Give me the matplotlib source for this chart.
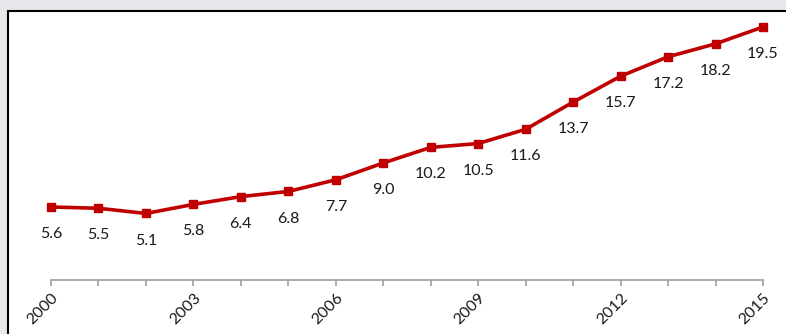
import matplotlib.pyplot as plt
from matplotlib.patches import Rectangle

years = list(range(2000, 2016))
values = [5.6, 5.5, 5.1, 5.8, 6.4, 6.8, 7.7, 9.0, 10.2, 10.5, 11.6, 13.7, 15.7, 17.2, 18.2, 19.5]
label_years = [2000, 2003, 2006, 2009, 2012, 2015]

plt.rcParams['font.family'] = ['Lato', 'DejaVu Sans']

W, H = 786, 334
fig = plt.figure(figsize=(W / 100, H / 100), dpi=100, facecolor='#e6e8ec')

# white panel with black border, cropped at the right and bottom
fig.patches.append(Rectangle((8 / W, -0.2), 1.5, 1.2 - 11 / H, transform=fig.transFigure,
                             facecolor='white', edgecolor='black', linewidth=1.5, zorder=-1))

ax = fig.add_axes([51 / W, (H - 279.5) / H, 712 / W, 259 / H])
ax.set_zorder(2)
ax.set_facecolor('none')
ax.plot(years, values, color='#c00000', linewidth=2.6, marker='s', markersize=6,
        clip_on=False, zorder=3)

for x, v in zip(years, values):
    ax.annotate("{:.1f}".format(v), (x, v), xytext=(0, -19.5), textcoords='offset points',
                ha='center', va='center', fontsize=11.5, color='#1a1a1a')

ax.set_xlim(2000, 2015)
ax.set_ylim(0, 20)
for s in ['top', 'left', 'right']:
    ax.spines[s].set_visible(False)
ax.spines['bottom'].set_color('#a6a6a6')
ax.spines['bottom'].set_linewidth(1.3)
ax.set_yticks([])
ax.set_xticks(years)
ax.set_xticklabels([str(y) if y in label_years else '' for y in years],
                   rotation=45, ha='right', rotation_mode='anchor', fontsize=11.5, color='#1a1a1a')
ax.tick_params(axis='x', length=4, width=1.3, color='#a6a6a6', pad=4)

fig.savefig('out.png', dpi=100, facecolor=fig.get_facecolor())
